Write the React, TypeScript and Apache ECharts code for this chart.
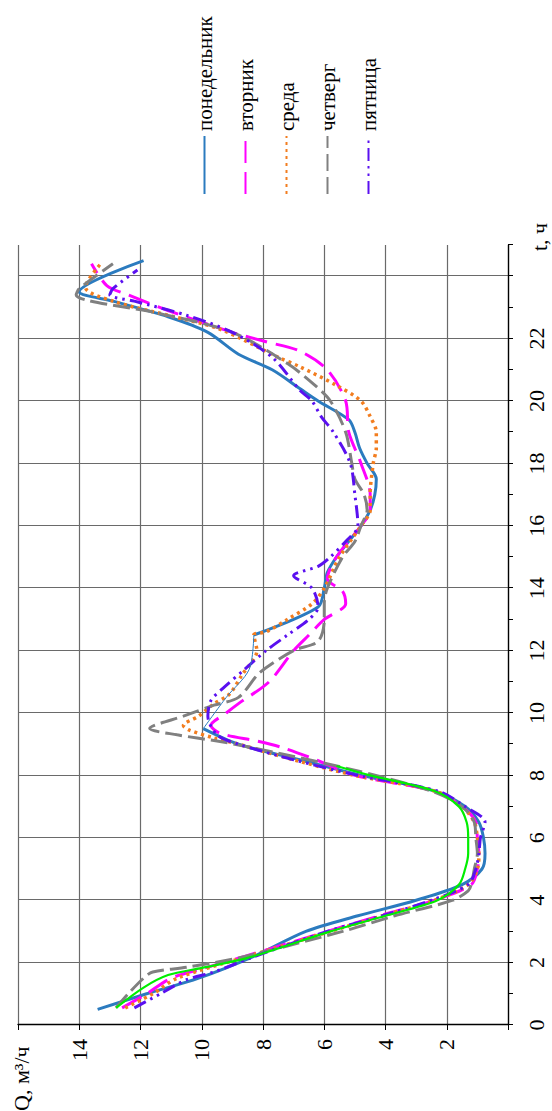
import React, { useEffect, useRef } from "react";
import * as echarts from "echarts";

const FONT = "Liberation Serif, serif";

const seriesNames = ["понедельник", "вторник", "среда", "четверг", "пятница"];
const seriesColors = ["#2B7BBF", "#FF00FF", "#F27D1F", "#808080", "#5A10F0"];

const tTicksHidden = [24, 25];
const qTicksHidden = [0, 16];

// [t, Q] pairs
const mondayA: [number, number][] = [
  [0.5, 13.4], [1.0, 11.8], [1.5, 10.1], [2.2, 8.3], [3.0, 6.6], [3.5, 4.9], [4.0, 3.0],
  [4.5, 1.5], [5.0, 0.85], [5.5, 0.75], [6.0, 0.8], [6.5, 0.95], [7.0, 1.4], [7.5, 2.4],
  [8.0, 4.8], [8.5, 6.8], [9.0, 8.8], [9.5, 9.95],
];
const mondayB: [number, number][] = [
  [12.5, 8.3], [13.4, 6.2], [14.0, 6.0], [14.5, 5.9], [15.0, 5.6], [15.5, 5.2], [16.0, 4.8],
  [16.5, 4.5], [17.0, 4.35], [17.5, 4.3], [18.0, 4.6], [18.5, 4.85], [19.0, 5.0], [19.4, 5.2],
  [20.0, 6.2], [20.4, 6.8], [21.0, 7.7], [21.5, 8.8], [22.2, 9.8], [22.7, 11.1], [23.2, 12.9],
  [23.5, 14.0], [24.5, 11.9],
];
const mondayThin: [number, number][] = [[9.5, 9.95], [10.5, 9.2], [11.4, 8.45], [12.5, 8.3]];

const tuesday: [number, number][] = [
  [0.55, 12.6], [1.0, 11.8], [1.5, 11.0], [1.8, 10.0], [2.2, 8.6], [3.0, 5.9], [3.5, 4.2],
  [4.0, 2.4], [4.5, 1.2], [5.0, 1.0], [5.5, 0.95], [6.0, 1.0], [6.5, 1.05], [7.0, 1.5],
  [7.5, 2.4], [8.0, 5.0], [8.55, 6.4], [8.9, 7.4], [9.1, 8.2], [9.35, 9.4], [9.6, 9.7],
  [10.0, 9.2], [10.3, 8.8], [11.0, 7.8], [12.0, 7.0], [12.5, 6.5], [13.0, 6.0], [13.5, 5.3],
  [13.9, 5.4], [14.3, 5.9], [15.0, 5.6], [16.0, 4.8], [16.5, 4.5], [17.0, 4.5], [18.0, 4.8],
  [19.0, 5.2], [20.0, 5.3], [21.0, 5.9], [21.6, 6.8], [21.9, 7.9], [22.2, 9.0], [22.9, 11.1],
  [23.4, 12.4], [23.7, 13.1], [24.4, 13.6],
];

const wednesday: [number, number][] = [
  [0.55, 12.5], [1.0, 11.6], [1.5, 10.8], [2.2, 8.5], [3.0, 5.8], [3.5, 4.1], [4.0, 2.4],
  [4.5, 1.3], [5.0, 1.0], [5.5, 0.95], [6.0, 1.0], [6.5, 1.1], [7.0, 1.5], [7.5, 2.4],
  [8.0, 5.0], [8.5, 7.0], [9.0, 8.8], [9.2, 9.6], [9.45, 10.4], [9.6, 10.6], [9.9, 10.1],
  [10.3, 9.6], [10.6, 9.1], [11.2, 8.7], [12.0, 8.2], [12.5, 8.3], [12.6, 7.9], [13.0, 7.2],
  [13.5, 6.4], [14.0, 6.0], [15.0, 5.5], [16.0, 4.8], [16.5, 4.5], [17.0, 4.5], [18.0, 4.4],
  [18.5, 4.3], [19.0, 4.3], [19.5, 4.5], [20.0, 4.8], [20.5, 5.6], [21.1, 6.8], [21.4, 7.5],
  [22.3, 9.4], [22.7, 10.9], [23.2, 12.9], [23.65, 13.8], [24.4, 13.3],
];

const thursday: [number, number][] = [
  [0.55, 12.8], [1.0, 12.4], [1.5, 11.9], [1.7, 11.6], [1.85, 10.5], [2.15, 8.8], [3.0, 5.4],
  [3.5, 3.7], [4.0, 1.8], [4.3, 1.3], [4.5, 1.2], [5.0, 1.1], [5.5, 1.0], [6.0, 1.05],
  [6.5, 1.1], [7.0, 1.5], [7.5, 2.5], [8.2, 5.15], [8.9, 8.4], [9.1, 9.5], [9.3, 10.8],
  [9.5, 11.7], [9.9, 10.6], [10.25, 9.6], [10.5, 8.8], [11.3, 8.1], [12.0, 7.0], [12.3, 6.2],
  [13.0, 6.0], [13.5, 6.0], [14.0, 5.9], [15.0, 5.4], [15.5, 5.0], [16.0, 4.8], [16.5, 4.6],
  [17.0, 4.7], [17.5, 5.0], [18.0, 5.1], [19.0, 5.3], [20.0, 5.8], [20.5, 6.3], [21.2, 7.2],
  [22.2, 9.0], [22.8, 11.35], [23.4, 14.1], [23.6, 14.0], [24.4, 12.9],
];

const friday: [number, number][] = [
  [0.55, 12.2], [1.0, 11.35], [1.45, 10.5], [1.7, 9.6], [2.15, 8.4], [3.0, 5.9], [3.5, 4.1],
  [4.0, 2.5], [4.5, 1.3], [5.0, 1.05], [5.5, 0.95], [6.0, 0.9], [6.5, 0.75], [7.0, 1.4],
  [7.5, 2.3], [8.0, 4.9], [8.5, 7.0], [9.0, 8.8], [9.3, 9.5], [9.9, 9.8], [10.4, 9.7],
  [10.8, 9.3], [11.4, 8.6], [12.0, 7.9], [12.5, 7.2], [13.0, 6.5], [13.4, 6.2], [14.0, 6.4],
  [14.4, 7.0], [14.7, 6.2], [15.0, 5.8], [15.5, 5.3], [16.0, 4.9], [17.0, 5.0], [18.0, 5.15],
  [19.0, 5.7], [19.5, 6.1], [20.0, 6.4], [20.35, 6.8], [21.4, 7.7], [22.2, 9.0], [22.75, 10.5],
  [23.2, 12.2], [23.4, 13.0], [23.6, 12.9], [24.2, 12.1],
];

const greenExtra: [number, number][] = [
  [0.55, 12.8], [1.2, 11.9], [1.6, 11.1], [1.83, 10.0], [2.15, 8.5], [3.0, 5.8], [3.5, 4.0],
  [4.0, 2.3], [4.5, 1.6], [5.0, 1.4], [5.5, 1.3], [6.0, 1.3], [6.5, 1.35], [7.0, 1.6],
  [7.5, 2.4], [8.0, 4.5], [8.3, 5.6],
];

const dashPatterns: (string | number[])[] = [
  "solid",
  [22, 9],
  [3, 4],
  [17, 6],
  [13, 5, 2.5, 5, 2.5, 5],
];

export default function App() {
  const ref = useRef<HTMLDivElement>(null);
  useEffect(() => {
    if (!ref.current) return;
    const chart = echarts.init(ref.current, null, { renderer: "svg" });
    const datasets: any[] = [
      [...mondayA, [11, "-"], ...mondayB],
      tuesday,
      wednesday,
      thursday,
      friday,
    ];
    const main = seriesNames.map((name, i) => ({
      name,
      type: "line",
      data: datasets[i],
      smooth: 0.3,
      symbol: "none",
      connectNulls: false,
      lineStyle: {
        color: seriesColors[i],
        width: i === 2 ? 3.5 : 3,
        type: dashPatterns[i],
      },
      itemStyle: { color: seriesColors[i] },
    }));
    const option: any = {
      animation: false,
      backgroundColor: "#fff",
      textStyle: { fontFamily: FONT },
      grid: { left: 86, right: 245, top: 18, bottom: 44, containLabel: false },
      legend: {
        orient: "vertical",
        left: 911,
        top: 189,
        itemWidth: 58,
        itemHeight: 12,
        itemGap: 20,
        data: seriesNames,
        itemStyle: { opacity: 0 },
        textStyle: { fontFamily: FONT, fontSize: 21, color: "#000", lineHeight: 21 },
      },
      xAxis: {
        type: "value",
        min: 0,
        max: 25,
        interval: 2,
        axisLine: { show: true, lineStyle: { color: "#000", width: 1.3 } },
        axisTick: { show: true, length: 5, lineStyle: { color: "#000" } },
        minorTick: { show: true, splitNumber: 2, length: 5, lineStyle: { color: "#000" } },
        splitLine: { show: true, showMaxLine: false, lineStyle: { color: "#6a6a6a", width: 1.2 } },
        axisLabel: {
          margin: 17,
          fontSize: 22,
          fontFamily: FONT,
          color: "#000",
          formatter: (v: number) => (tTicksHidden.includes(v) ? "" : String(v)),
        },
      },
      yAxis: {
        type: "value",
        min: 0,
        max: 16,
        interval: 2,
        axisLine: { show: true, lineStyle: { color: "#000", width: 1.3 } },
        axisTick: { show: true, length: 5, lineStyle: { color: "#000" } },
        splitLine: { show: true, lineStyle: { color: "#6a6a6a", width: 1.2 } },
        axisLabel: {
          margin: 14,
          fontSize: 22,
          fontFamily: FONT,
          color: "#000",
          formatter: (v: number) => (qTicksHidden.includes(v) ? "" : String(v)),
        },
      },
      graphic: [
        {
          type: "text",
          left: 0,
          top: 10,
          style: { text: "Q, м³/ч", font: `22px ${FONT}`, fill: "#000" },
        },
        {
          type: "text",
          left: 860,
          top: 528,
          style: { text: "t, ч", font: `22px ${FONT}`, fill: "#000" },
        },
      ],
      series: [
        ...main,
        {
          name: "extra",
          type: "line",
          data: greenExtra,
          smooth: 0.3,
          symbol: "none",
          lineStyle: { color: "#00EE00", width: 2.2 },
        },
        {
          name: "thin",
          type: "line",
          data: mondayThin,
          smooth: 0.3,
          symbol: "none",
          lineStyle: { color: seriesColors[0], width: 1 },
        },
      ],
    };
    chart.setOption(option);
    return () => chart.dispose();
  }, []);
  return (
    <div
      style={{
        position: "fixed",
        left: 0,
        top: 0,
        width: 552,
        height: 1111,
        overflow: "hidden",
        background: "#fff",
      }}
    >
      <div
        ref={ref}
        style={{
          position: "absolute",
          left: 0,
          top: 0,
          width: 1111,
          height: 552,
          transformOrigin: "0 0",
          transform: "translate(0px, 1111px) rotate(-90deg)",
        }}
      />
    </div>
  );
}
